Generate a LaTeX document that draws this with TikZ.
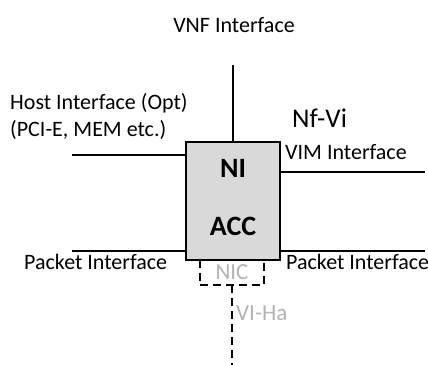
\documentclass[tikz,border=0pt]{standalone}
\usepackage{fontspec}
\setmainfont{Carlito}
\usetikzlibrary{positioning}
\definecolor{accgray}{RGB}{217,217,217}
\definecolor{nicgray}{RGB}{178,178,178}

\tikzset{
  lbl/.style={inner sep=0pt, font=\fontsize{22}{24}\selectfont},
  accbox/.style={draw, fill=accgray, line width=2.6pt, minimum width=94pt, minimum height=118pt, inner sep=0pt},
  boxlbl/.style={inner sep=0pt, font=\fontsize{28}{30}\selectfont\bfseries},
  iface/.style={line width=2.2pt},
  hwlink/.style={line width=2.2pt, dash pattern=on 8pt off 5pt}
}

\begin{document}
\begin{tikzpicture}[x=1pt, y=-1pt]
  \useasboundingbox (0,0) rectangle (428,365);
  % accelerator box
  \node[accbox] (acc) at (233,201) {};
  \node[boxlbl] (ni) at (233,168) {NI};
  \node[boxlbl] (acclbl) at (233,226) {ACC};
  % NIC part below the box
  \node[inner sep=0pt, minimum width=64pt, minimum height=25pt, text=nicgray, font=\fontsize{23}{25}\selectfont] (nic) at (232,272.5) {NIC};
  \draw[hwlink] (nic.north west) -- (nic.south west) -- (nic.south east) -- (nic.north east);
  % free ends of the interfaces
  \coordinate (vnfend) at (233,65);
  \coordinate (hostend) at (72,155);
  \coordinate (vimend) at (425,172);
  \coordinate (pktleft) at (72,251);
  \coordinate (pktright) at (425,251);
  \coordinate (viend) at (232,365);
  \draw[iface] (acc.north) -- (vnfend);
  \draw[iface] (hostend) -- (hostend -| acc.west);
  \draw[iface] (vimend -| acc.east) -- (vimend);
  \draw[iface] (pktleft) -- (pktleft -| acc.west);
  \draw[iface] (pktright -| acc.east) -- (pktright);
  \draw[hwlink] (nic.south) -- (viend);
  % labels
  \node[lbl] (vnf) at (234,25) {VNF Interface};
  \node[lbl, anchor=west] (host) at (10,103) {Host Interface (Opt)};
  \node[lbl, anchor=west] (pci) at (10,130) {(PCI-E, MEM etc.)};
  \node[lbl, anchor=west, font=\fontsize{27}{29}\selectfont] (nfvi) at (292,118) {Nf-Vi};
  \node[lbl, anchor=west] (vim) at (285,152) {VIM Interface};
  \node[lbl, anchor=west] (pktl) at (24,262) {Packet Interface};
  \node[lbl, anchor=west] (pktr) at (286,262) {Packet Interface};
  \node[lbl, anchor=west, text=nicgray, font=\fontsize{23}{25}\selectfont] (viha) at (236,313) {VI-Ha};
\end{tikzpicture}
\end{document}
